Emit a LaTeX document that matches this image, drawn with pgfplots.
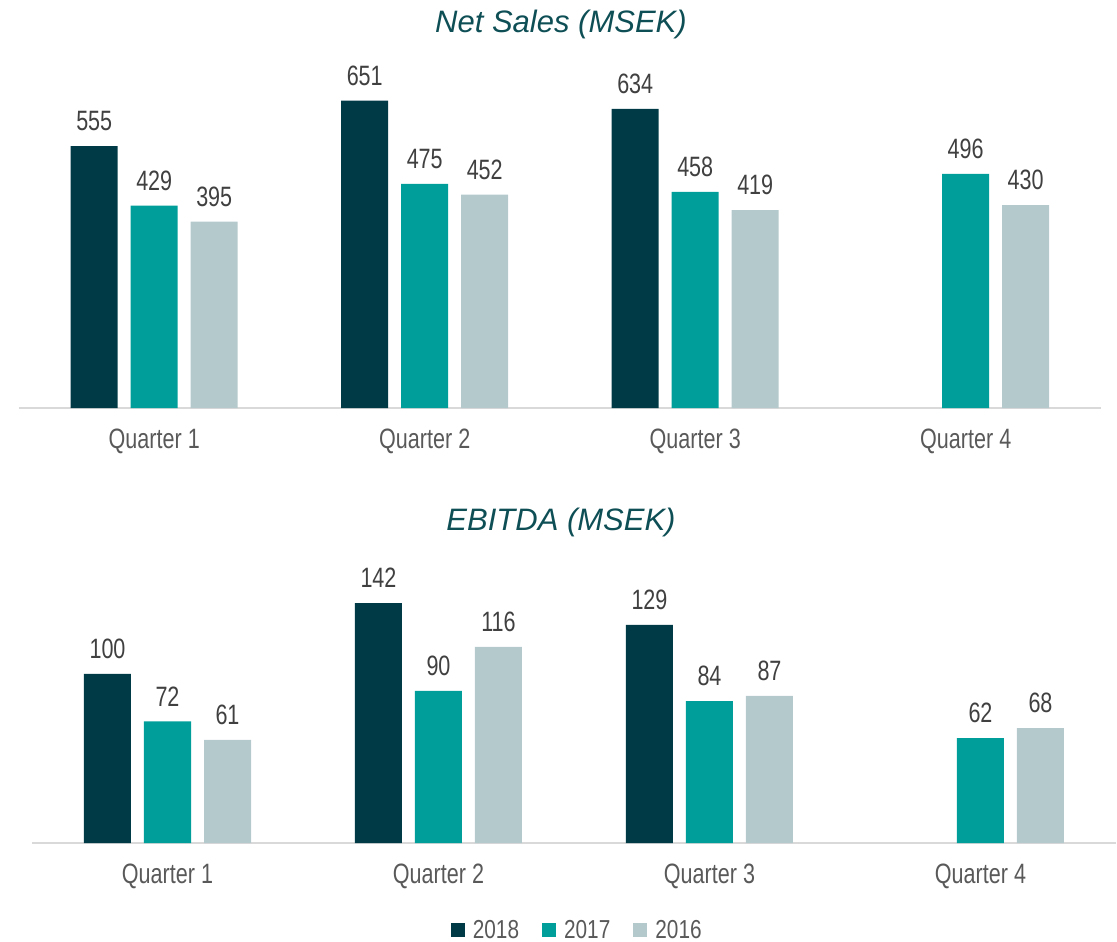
\documentclass[border=0pt]{standalone}
\usepackage{pgfplots}
\pgfplotsset{compat=1.18}
\usepackage{fontspec}
\setmainfont{Liberation Sans}
\newfontfamily\narrowfont{Liberation Sans}[FakeStretch=0.77]
\newfontfamily\legfont{Liberation Sans}[FakeStretch=0.8]
\definecolor{c2018}{HTML}{003A46}
\definecolor{c2017}{HTML}{009E9A}
\definecolor{c2016}{HTML}{B4C9CC}
\definecolor{ctitle}{HTML}{0E4E55}
\definecolor{ctick}{HTML}{595959}
\definecolor{cval}{HTML}{404040}
\definecolor{caxis}{HTML}{D9D9D9}

\pgfplotsset{
  mybars/.style={
    ybar=13pt, bar width=47pt,
    scale only axis,
    xmin=-0.5, xmax=3.5, ymin=0,
    enlarge x limits=false,
    axis x line*=bottom, hide y axis,
    x axis line style={caxis, line width=2pt, -},
    xtick={0,1,2,3},
    xticklabels={Quarter 1,Quarter 2,Quarter 3,Quarter 4},
    major tick length=0pt,
    /pgf/number format/assume math mode=true,
    xticklabel style={font=\narrowfont\fontsize{28}{32}\selectfont, text=ctick, inner sep=0pt, anchor=north, yshift=-21pt},
    nodes near coords,
    every node near coord/.append style={font=\narrowfont\fontsize{28}{32}\selectfont, text=cval, inner sep=0pt, anchor=south, yshift=15pt},
    legend image code/.code={\fill[##1] (0pt,-7pt) rectangle (14pt,7pt); \path (20pt,0pt);},
  }
}

\begin{document}
\begin{tikzpicture}
\path[use as bounding box] (0pt,0pt) rectangle (1117pt,-942pt);

\begin{axis}[mybars, at={(19pt,-408pt)}, anchor=south west,
  width=1082pt, height=348pt, ymax=737.3]
\addplot[fill=c2018, draw=none] coordinates {(0,555) (1,651) (2,634)};
\addplot[fill=c2017, draw=none] coordinates {(0,429) (1,475) (2,458) (3,496)};
\addplot[fill=c2016, draw=none] coordinates {(0,395) (1,452) (2,419) (3,430)};
\end{axis}

\begin{axis}[mybars, at={(32pt,-843pt)}, anchor=south west,
  width=1084pt, height=288pt, ymax=170.4,
  legend columns=3,
  legend style={draw=none, fill=none, at={(axis description cs:0.503,-0.302)}, anchor=center,
    font=\legfont\fontsize{26}{30}\selectfont, text=ctick,
    /tikz/every even column/.append style={column sep=21pt},
    inner sep=0pt},
  legend cell align=left]
\addplot[fill=c2018, draw=none] coordinates {(0,100) (1,142) (2,129)};
\addlegendentry{2018}
\addplot[fill=c2017, draw=none] coordinates {(0,72) (1,90) (2,84) (3,62)};
\addlegendentry{2017}
\addplot[fill=c2016, draw=none] coordinates {(0,61) (1,116) (2,87) (3,68)};
\addlegendentry{2016}
\end{axis}

\node[anchor=base, text=ctitle, font=\itshape\fontsize{31}{36}\selectfont, inner sep=0pt] at (561pt,-33pt) {Net Sales (MSEK)};
\node[anchor=base, text=ctitle, font=\itshape\fontsize{31}{36}\selectfont, inner sep=0pt] at (561pt,-530pt) {EBITDA (MSEK)};
\end{tikzpicture}
\end{document}
